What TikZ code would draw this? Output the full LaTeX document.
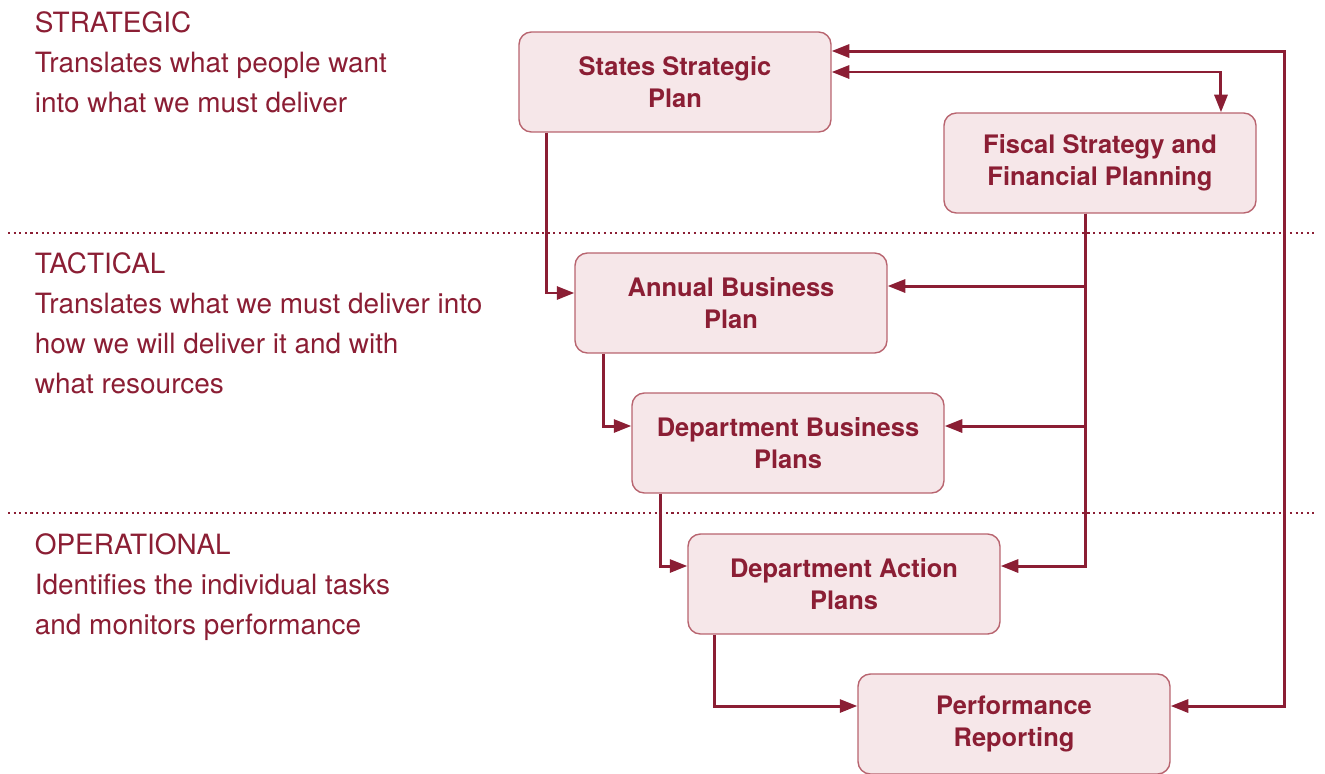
\documentclass[tikz,border=0pt]{standalone}
\usepackage{fontspec}
\setmainfont{TeX Gyre Heros}
\usepackage{tikz}
\usetikzlibrary{arrows.meta}
\definecolor{plandark}{HTML}{8B1E34}
\definecolor{planfill}{HTML}{F6E7E9}
\definecolor{planline}{HTML}{B8646F}
\tikzset{
every picture/.style={
line width=1pt
}}

\begin{document}
\begin{tikzpicture}[x=0.02cm, y=-0.02cm,
plan/.style = {rectangle, rounded corners=7pt, draw=planline, line width=0.8pt, fill=planfill,
  minimum width=6.24cm, minimum height=2cm, align=center, text=plandark,
  font=\fontsize{14.5}{18}\selectfont\bfseries},
level/.style = {anchor=north west, inner sep=0pt, align=left, text=plandark,
  font=\fontsize{15.9}{22.7}\selectfont},
link/.style = {draw=plandark, line width=1.7pt, -{Triangle[length=10pt,width=7.4pt]}},
both/.style = {link, {Triangle[length=10pt,width=7.4pt]}-{Triangle[length=10pt,width=7.4pt]}},
divider/.style = {draw=plandark, line width=1.2pt, dotted}]

\useasboundingbox (0,0) rectangle (1325,774);

% levels
\node[level] (strat) at (34,11) {STRATEGIC\\Translates what people want\\into what we must deliver};
\node[level] (tact) at (34,252) {TACTICAL\\Translates what we must deliver into\\how we will deliver it and with\\what resources};
\node[level] (oper) at (34,533) {OPERATIONAL\\Identifies the individual tasks\\and monitors performance};

\draw[divider] (8,233) -- (1317,233);
\draw[divider] (8,513) -- (1317,513);

% plans
\node[plan] (ssp) at (675,82) {States Strategic\\Plan};
\node[plan] (fs) at (1100,163) {Fiscal Strategy and\\Financial Planning};
\node[plan] (abp) at (731,303) {Annual Business\\Plan};
\node[plan] (dbp) at (788,443) {Department Business\\Plans};
\node[plan] (dap) at (844,584) {Department Action\\Plans};
\node[plan] (pr) at (1014,724) {Performance\\Reporting};

\draw[link] ([xshift=0.56cm]ssp.south west) |- ([yshift=0.2cm]abp.west);
\draw[link] ([xshift=0.58cm]abp.south west) |- ([yshift=0.34cm]dbp.west);
\draw[link] ([xshift=0.58cm]dbp.south west) |- ([yshift=0.36cm]dap.west);
\draw[link] ([xshift=0.54cm]dap.south west) |- ([yshift=0.36cm]pr.west);

\draw[link] ([xshift=-0.3cm]fs.south) |- ([yshift=0.34cm]abp.east);
\draw[link] ([xshift=-0.3cm]fs.south) |- ([yshift=0.34cm]dbp.east);
\draw[link] ([xshift=-0.3cm]fs.south) |- ([yshift=0.36cm]dap.east);

\draw[both] ([yshift=0.2cm]ssp.east) -| ([xshift=2.42cm]fs.north);
\draw[both] ([yshift=0.36cm]pr.east) -- ++(2.28cm,0) |- ([yshift=0.62cm]ssp.east);
\end{tikzpicture}
\end{document}
